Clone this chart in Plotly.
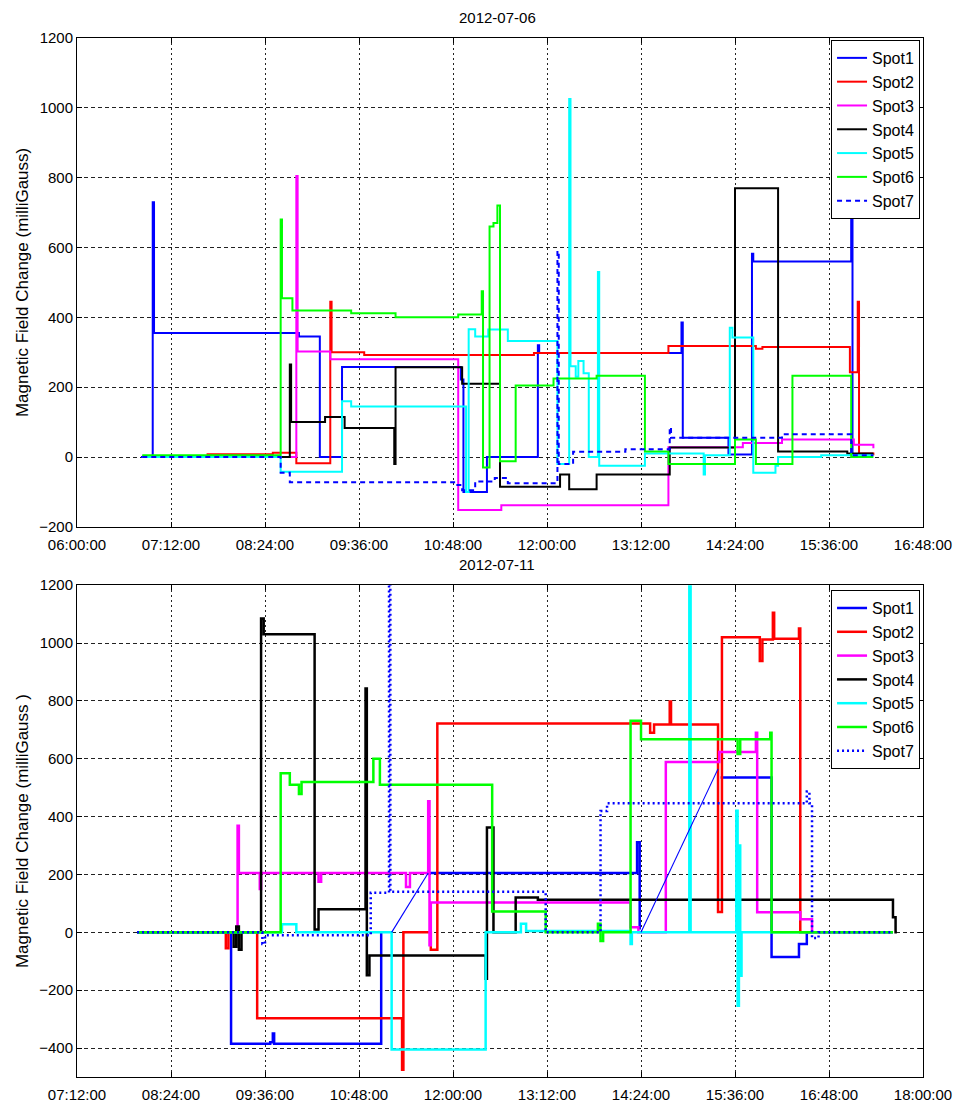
import plotly.graph_objects as go

# ---------------------------------------------------------------------------
# Magnetic field change per sensor spot, two survey days.
# Each series is a list of level changes: the value holds from its time stamp
# until the next one (step plot). None marks a gap in the record.
# ---------------------------------------------------------------------------
DAY1 = "2012-07-06"
DAY2 = "2012-07-11"

SPOTS = ["Spot1", "Spot2", "Spot3", "Spot4", "Spot5", "Spot6", "Spot7"]
COLORS = ["#0000ff", "#ff0000", "#ff00ff", "#000000", "#00ffff", "#00ff00", "#0000ff"]

# ----------------------------- 2012-07-06 ---------------------------------
D1_SPOT1_T = ["06:49", "06:58", "06:59", "08:50", "09:06", "09:23", "10:54", "10:56", "11:14",
              "11:53", "11:54", "13:43", "13:44", "14:19", "14:37", "14:38", "15:53", "15:54", "16:10"]
D1_SPOT1_V = [0, 730, 355, 345, 0, 258, 222, -100, 0,
              320, 298, 385, 55, 7, 582, 560, 700, 7, 7]

D1_SPOT2_T = ["06:50", "07:40", "08:30", "08:48", "09:14", "09:15", "09:40", "11:50", "13:33",
              "14:40", "14:45", "15:52", "15:58", "15:59", "16:10"]
D1_SPOT2_V = [2, 8, 12, -18, 445, 300, 292, 298, 318,
              310, 315, 243, 445, 10, 5]

D1_SPOT3_T = ["06:50", "08:48", "08:49", "09:14", "10:52", "11:25", "13:33", "14:30", "15:00",
              "15:55", "16:10"]
D1_SPOT3_V = [0, 805, 302, 280, -152, -138, 28, 40, 50,
              35, 25]

D1_SPOT4_T = ["06:50", "08:43", "08:44", "09:10", "09:25", "10:03", "10:04", "10:55", "11:24",
              "12:10", "12:17", "12:38", "13:34", "14:24", "14:57", "15:50", "16:10"]
D1_SPOT4_V = [0, 265, 100, 115, 83, -20, 257, 210, -85,
              -50, -92, -50, 27, 770, 16, 10, 10]

D1_SPOT5_T = ["06:50", "08:36", "09:23", "09:30", "10:58", "11:00", "11:05", "11:15", "11:30",
              "12:08", "12:17", "12:18", "12:22", "12:24", "12:28", "12:32", "12:39", "12:40",
              "13:15", "14:00", "14:01", "14:20", "14:22", "14:38", "14:55", "14:57", "15:30", "16:10"]
D1_SPOT5_V = [0, -42, 160, 145, -100, 366, 345, 365, 332,
              -20, 1025, 260, 230, 275, 240, 0, 530, -25,
              10, -50, 5, 370, 342, -45, -25, 0, 5, 5]

D1_SPOT6_T = ["06:50", "08:36", "08:37", "08:45", "09:30", "10:04", "10:52", "11:10", "11:11",
              "11:16", "11:19", "11:22", "11:24", "11:36", "12:05", "12:38", "13:15", "13:33",
              "14:24", "14:40", "15:08", "15:53", "16:10"]
D1_SPOT6_V = [5, 680, 455, 420, 412, 400, 408, 475, -30,
              660, 670, 720, -12, 205, 225, 233, 16, -20,
              50, -20, 233, 0, 0]

D1_SPOT7_T = ["06:50", "08:36", "08:43", "10:50", "10:55", "11:05", "11:20", "11:30", "12:08",
              "12:09", "12:20", "13:00", "13:34", "13:35", "15:00", "15:53", "16:10"]
D1_SPOT7_V = [0, -45, -72, -80, -95, -70, -60, -75, 590,
              -20, 15, 22, 85, 55, 65, 5, 5]

# ----------------------------- 2012-07-11 ---------------------------------
D2_SPOT1_T = ["07:58", "09:10", "09:40", "09:42", "09:43", "11:05", "11:13", "11:41", "14:21",
              "14:23", "14:25", "15:25", "16:04", "16:25", "16:31", "17:37"]
D2_SPOT1_V = [0, -385, -380, -350, -385, 0, None, 205, 311,
              10, None, 535, -85, -40, 0, 0]

D2_SPOT2_T = ["07:58", "09:06", "09:08", "09:30", "11:21", "11:22", "11:43", "11:48", "14:31",
              "14:34", "14:46", "14:47", "15:23", "15:26", "15:55", "15:57", "16:05", "16:06",
              "16:25", "16:26", "17:37"]
D2_SPOT2_V = [0, -55, 0, -297, -475, 0, -60, 722, 690,
              718, 798, 718, 70, 1020, 938, 1012, 1105, 1015,
              1050, 0, 0]

D2_SPOT3_T = ["07:58", "09:15", "09:16", "09:32", "09:33", "10:17", "10:19", "11:24", "11:27",
              "11:41", "11:42", "11:43", "14:16", "14:22", "14:43", "15:24", "15:52", "15:53",
              "16:26", "16:35", "17:37"]
D2_SPOT3_V = [0, 368, 205, 150, 205, 175, 205, 157, 205,
              453, -45, 103, 18, 0, 589, 623, 690, 69,
              45, 0, 0]

D2_SPOT4_T = ["07:58", "09:12", "09:14", "09:16", "09:18", "09:33", "09:35", "10:14", "10:17",
              "10:53", "10:54", "10:56", "12:25", "12:26", "12:31", "12:48", "13:05", "17:37",
              "17:39", "17:40"]
D2_SPOT4_V = [0, -50, 20, -60, 0, 1085, 1030, 10, 80,
              843, -148, -80, -160, 362, 0, 120, 113, 52,
              0, 0]

D2_SPOT5_T = ["07:58", "09:49", "10:00", "11:13", "12:25", "12:52", "12:56", "14:16", "14:17",
              "15:01", "15:02", "15:37", "15:38", "15:39", "15:40", "15:41", "17:37"]
D2_SPOT5_V = [0, 28, 0, -405, 0, 30, 5, -40, 0,
              1300, 0, 420, -254, 300, -150, 0, 0]

D2_SPOT6_T = ["07:58", "09:48", "09:55", "10:02", "10:04", "10:59", "11:04", "12:30", "13:11",
              "13:51", "13:53", "13:55", "14:16", "14:24", "15:38", "15:40", "16:03", "16:04", "17:37"]
D2_SPOT6_V = [0, 550, 510, 478, 520, 600, 510, 72, 0,
              30, -30, 0, 731, 667, 616, 667, 690, 0, 0]

D2_SPOT7_T = ["07:58", "09:34", "09:36", "10:57", "11:11", "11:12", "13:11", "13:53", "13:58",
              "16:31", "16:33", "16:35", "16:40", "17:37"]
D2_SPOT7_V = [0, -40, -10, 137, 1300, 140, 0, 419, 446,
              487, 446, -20, 0, 0]

# Spot1 record gaps on 2012-07-11, bridged by a straight connecting line
D2_GAP_A_T = ["11:13", "11:41"]
D2_GAP_A_V = [0, 205]
D2_GAP_B_T = ["14:24", "15:23"]
D2_GAP_B_V = [0, 565]

DAY1_SERIES = [(D1_SPOT1_T, D1_SPOT1_V), (D1_SPOT2_T, D1_SPOT2_V), (D1_SPOT3_T, D1_SPOT3_V),
               (D1_SPOT4_T, D1_SPOT4_V), (D1_SPOT5_T, D1_SPOT5_V), (D1_SPOT6_T, D1_SPOT6_V),
               (D1_SPOT7_T, D1_SPOT7_V)]
DAY2_SERIES = [(D2_SPOT1_T, D2_SPOT1_V), (D2_SPOT2_T, D2_SPOT2_V), (D2_SPOT3_T, D2_SPOT3_V),
               (D2_SPOT4_T, D2_SPOT4_V), (D2_SPOT5_T, D2_SPOT5_V), (D2_SPOT6_T, D2_SPOT6_V),
               (D2_SPOT7_T, D2_SPOT7_V)]

FONT = "Liberation Sans, Arial, sans-serif"
W, H = 964, 1115
ML, MR, MT, MB = 77, 38, 38, 25
PLOT_H = H - MT - MB


def stamp(day, hhmm):
    return f"{day} {hhmm}:00"


def py(pixel_y):
    """Convert a page pixel row into paper coordinates."""
    return (H - MB - pixel_y) / PLOT_H


fig = go.Figure()

for day, series, xa, ya, leg, width, last_dash in [
    (DAY1, DAY1_SERIES, "x", "y", "legend", 2.0, "5px,4px"),
    (DAY2, DAY2_SERIES, "x2", "y2", "legend2", 2.5, "2px,3px"),
]:
    for name, color, (ts, vs) in zip(SPOTS, COLORS, series):
        dash = last_dash if name == "Spot7" else "solid"
        fig.add_trace(go.Scatter(
            x=[stamp(day, t) for t in ts], y=vs, name=name, mode="lines",
            line=dict(color=color, width=width, dash=dash, shape="hv"),
            connectgaps=False, xaxis=xa, yaxis=ya, legend=leg,
        ))

for ts, vs in [(D2_GAP_A_T, D2_GAP_A_V), (D2_GAP_B_T, D2_GAP_B_V)]:
    fig.add_trace(go.Scatter(
        x=[stamp(DAY2, t) for t in ts], y=vs, mode="lines", showlegend=False,
        line=dict(color="#0000ff", width=1.1), xaxis="x2", yaxis="y2",
    ))

axis_common = dict(
    showline=True, linecolor="#000000", linewidth=1, mirror="ticks",
    ticks="inside", ticklen=5, tickcolor="#000000", tickwidth=1,
    showgrid=True, gridcolor="#222222", gridwidth=1, zeroline=False,
    tickfont=dict(family=FONT, size=15, color="#000000"),
)

x_common = dict(axis_common, type="date", tickformat="%H:%M:%S",
                dtick=72 * 60 * 1000, griddash="2px,3px", ticklabelstandoff=4)
y_common = dict(axis_common, griddash="4px,3px")

top_lo, top_hi = py(533), 1.0
bot_lo, bot_hi = 0.0, py(592)

fig.update_layout(
    width=W, height=H,
    margin=dict(l=ML, r=MR, t=MT, b=MB),
    paper_bgcolor="#ffffff", plot_bgcolor="#ffffff",
    font=dict(family=FONT, color="#000000"),
    xaxis=dict(x_common, domain=[0, 1], anchor="y",
               range=[stamp(DAY1, "06:00"), stamp(DAY1, "16:48")],
               tick0=stamp(DAY1, "06:00")),
    yaxis=dict(y_common, domain=[top_lo, top_hi], anchor="x",
               range=[-200, 1200], dtick=200,
               title=dict(text="Magnetic Field Change (milliGauss)",
                          font=dict(family=FONT, size=17), standoff=6)),
    xaxis2=dict(x_common, domain=[0, 1], anchor="y2",
                range=[stamp(DAY2, "07:12"), stamp(DAY2, "18:00")],
                tick0=stamp(DAY2, "07:12")),
    yaxis2=dict(y_common, domain=[bot_lo, bot_hi], anchor="x2",
                range=[-500, 1200], tickvals=list(range(-400, 1201, 200)),
                title=dict(text="Magnetic Field Change (milliGauss )",
                           font=dict(family=FONT, size=17), standoff=6)),
    legend=dict(x=0.9965, y=py(40), xanchor="right", yanchor="top",
                bgcolor="#ffffff", bordercolor="#000000", borderwidth=1,
                font=dict(family=FONT, size=16), tracegroupgap=0, itemwidth=30),
    legend2=dict(x=0.9965, y=py(597), xanchor="right", yanchor="top",
                 bgcolor="#ffffff", bordercolor="#000000", borderwidth=1,
                 font=dict(family=FONT, size=16), tracegroupgap=0, itemwidth=30),
    annotations=[
        dict(text=DAY1, x=0.497, y=py(17), xref="paper", yref="paper",
             showarrow=False, font=dict(family=FONT, size=15), yanchor="middle"),
        dict(text=DAY2, x=0.497, y=py(571), xref="paper", yref="paper",
             showarrow=False, font=dict(family=FONT, size=15), yanchor="middle"),
    ],
)

fig.write_html("out.html")
